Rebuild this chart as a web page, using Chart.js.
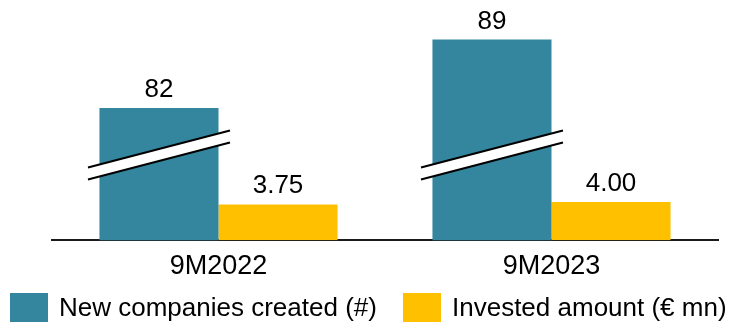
<!DOCTYPE html>
<html>
<head>
<meta charset="utf-8">
<script src="https://cdn.jsdelivr.net/npm/chart.js@4.4.0/dist/chart.umd.min.js"></script>
<style>
  html, body { margin: 0; padding: 0; background: #fff; }
  #wrap { position: relative; width: 733px; height: 325px; }
  #legend { position: absolute; left: 0; top: 292px; width: 733px; height: 30px;
            font: 26px "Liberation Sans", Arial, sans-serif; color: #000; }
  .item { position: absolute; top: 0; display: flex; align-items: center; white-space: nowrap; }
  .box { width: 38px; height: 29px; margin-right: 11px; }
</style>
</head>
<body>
<div id="wrap">
  <canvas id="chart" width="733" height="325"></canvas>
  <div id="legend"></div>
</div>
<script>
const categories = ['9M2022', '9M2023'];
const newCompanies = [82, 89];
const investedAmount = [3.75, 4.00];
const seriesNames = ['New companies created (#)', 'Invested amount (€ mn)'];
const seriesColors = ['#33869e', '#ffc000'];
// value on the companies axis where the bars are "cut"
const breakAt = 77.2;

const FONT = '"Liberation Sans", Arial, sans-serif';

// break marks on the first series
const axisBreak = {
  id: 'axisBreak',
  afterDatasetsDraw(chart) {
    const ctx = chart.ctx;
    const scale = chart.scales.yTeal;
    const cy = scale.getPixelForValue(breakAt);
    ctx.save();
    chart.getDatasetMeta(0).data.forEach(bar => {
      const half = 71, rise = 18.5, gap = 6;
      const x0 = bar.x - half, x1 = bar.x + half;
      ctx.fillStyle = '#fff';
      ctx.beginPath();
      ctx.moveTo(x0, cy - gap + rise);
      ctx.lineTo(x1, cy - gap - rise);
      ctx.lineTo(x1, cy + gap - rise);
      ctx.lineTo(x0, cy + gap + rise);
      ctx.closePath();
      ctx.fill();
      ctx.strokeStyle = '#000';
      ctx.lineWidth = 2;
      ctx.beginPath();
      ctx.moveTo(x0, cy - gap + rise);
      ctx.lineTo(x1, cy - gap - rise);
      ctx.moveTo(x0, cy + gap + rise);
      ctx.lineTo(x1, cy + gap - rise);
      ctx.stroke();
    });
    ctx.restore();
  }
};

const valueLabels = {
  id: 'valueLabels',
  afterDatasetsDraw(chart) {
    const ctx = chart.ctx;
    ctx.save();
    ctx.font = '26px ' + FONT;
    ctx.fillStyle = '#000';
    ctx.textAlign = 'center';
    ctx.textBaseline = 'alphabetic';
    chart.data.datasets.forEach((ds, i) => {
      chart.getDatasetMeta(i).data.forEach((bar, j) => {
        const v = ds.data[j];
        const txt = i === 0 ? String(v) : v.toFixed(2);
        ctx.fillText(txt, bar.x, bar.y - 11);
      });
    });
    ctx.restore();
  }
};

new Chart(document.getElementById('chart'), {
  type: 'bar',
  data: {
    labels: categories,
    datasets: [
      { label: seriesNames[0], data: newCompanies, backgroundColor: seriesColors[0], yAxisID: 'yTeal' },
      { label: seriesNames[1], data: investedAmount, backgroundColor: seriesColors[1], yAxisID: 'yGold' }
    ]
  },
  options: {
    responsive: false,
    animation: false,
    categoryPercentage: 0.715,
    barPercentage: 1.0,
    layout: { padding: { left: 52, right: 15, top: 0, bottom: 32.4 } },
    plugins: { legend: { display: false }, tooltip: { enabled: false } },
    scales: {
      x: {
        grid: { display: false, drawTicks: false },
        border: { display: true, color: '#1a1a1a', width: 2 },
        ticks: { color: '#000', font: { family: FONT, size: 27 }, padding: 10 }
      },
      yTeal: { display: false, min: 68.5, max: 93.04 },
      yGold: { display: false, min: 0, max: 25.18 }
    }
  },
  plugins: [axisBreak, valueLabels]
});

// legend
const legend = document.getElementById('legend');
const legendLeft = [10, 403];
seriesNames.forEach((name, i) => {
  const item = document.createElement('div');
  item.className = 'item';
  item.style.left = legendLeft[i] + 'px';
  const box = document.createElement('span');
  box.className = 'box';
  box.style.background = seriesColors[i];
  const txt = document.createElement('span');
  txt.textContent = name;
  item.appendChild(box);
  item.appendChild(txt);
  legend.appendChild(item);
});
</script>
</body>
</html>
